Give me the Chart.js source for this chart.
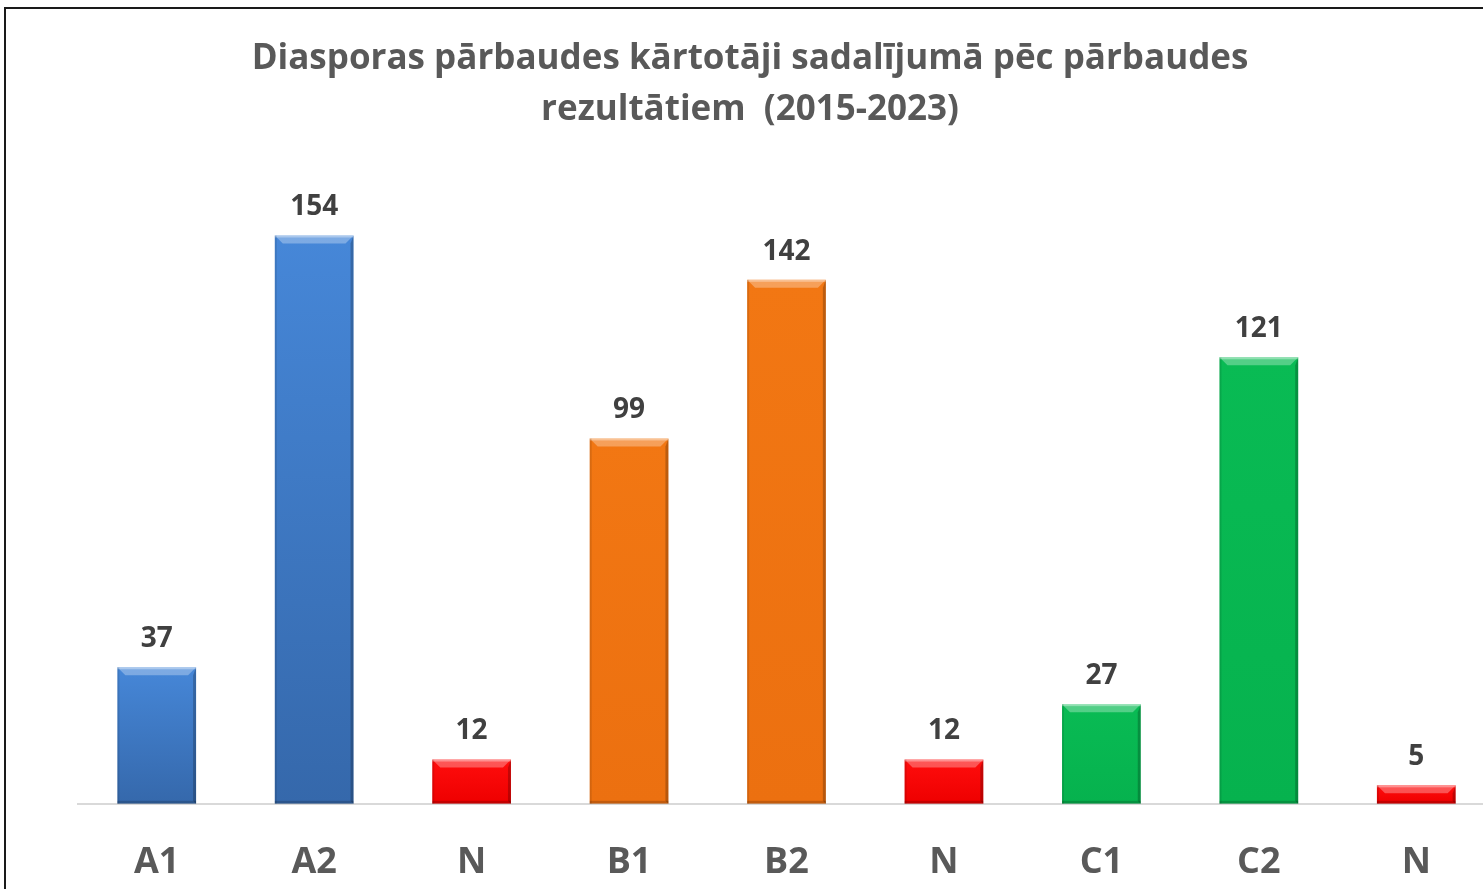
<!DOCTYPE html>
<html>
<head>
<meta charset="utf-8">
<script src="https://cdn.jsdelivr.net/npm/chart.js@4.4.0/dist/chart.umd.min.js"></script>
<style>
    html, body { margin: 0; padding: 0; background: #fff; overflow: hidden; }
    .frame { position: absolute; left: 4px; top: 7px; width: 1600px; height: 1000px; border: 2px solid #1a1a1a; }
    #chart { position: absolute; left: 0; top: 0; }
</style>
</head>
<body>
<div class="frame"></div>
<canvas id="chart" width="1500" height="929"></canvas>
<script>
const labels = ['A1', 'A2', 'N', 'B1', 'B2', 'N', 'C1', 'C2', 'N'];
const values = [37, 154, 12, 99, 142, 12, 27, 121, 5];
// top / bottom colour of each bar gradient
const topColors = ['#4687d8', '#4687d8', '#ff0d0d', '#f27713', '#f27713', '#ff0d0d', '#09bb54', '#09bb54', '#ff0d0d'];
const bottomColors = ['#3568ab', '#3568ab', '#ee0000', '#ec7010', '#ec7010', '#ee0000', '#06b24e', '#06b24e', '#ee0000'];

const titleLines = ['Diasporas pārbaudes kārtotāji sadalījumā pēc pārbaudes', 'rezultātiem  (2015-2023)'];

// title centred on the whole canvas, not on the plot area
const titlePlugin = {
    id: 'canvasTitle',
    afterDraw(chart) {
        const ctx = chart.ctx;
        ctx.save();
        ctx.font = 'bold 35px "Open Sans"';
        ctx.fillStyle = '#595959';
        ctx.textAlign = 'center';
        ctx.textBaseline = 'middle';
        titleLines.forEach((line, i) => {
            ctx.fillText(line, chart.width / 2, 59 + i * 51);
        });
        ctx.restore();
    }
};

// light top bevel, darker sides, like the office 3D bar style
const bevelPlugin = {
    id: 'bevel',
    afterDatasetsDraw(chart) {
        const ctx = chart.ctx;
        chart.getDatasetMeta(0).data.forEach(bar => {
            const left = bar.x - bar.width / 2;
            const right = bar.x + bar.width / 2;
            const top = bar.y;
            const bottom = bar.base;
            const b = Math.min(8, (bottom - top) / 2);
            ctx.save();
            // top highlight
            ctx.fillStyle = 'rgba(255,255,255,0.3)';
            ctx.beginPath();
            ctx.moveTo(left, top);
            ctx.lineTo(right, top);
            ctx.lineTo(right - b, top + b);
            ctx.lineTo(left + b, top + b);
            ctx.closePath();
            ctx.fill();
            ctx.fillStyle = 'rgba(255,255,255,0.35)';
            ctx.fillRect(left, top, right - left, 2);
            // right shade
            ctx.fillStyle = 'rgba(0,0,0,0.22)';
            ctx.beginPath();
            ctx.moveTo(right, top);
            ctx.lineTo(right, bottom);
            ctx.lineTo(right - 3, bottom - 3);
            ctx.lineTo(right - 3, top + b);
            ctx.closePath();
            ctx.fill();
            // bottom shade
            ctx.fillStyle = 'rgba(0,0,0,0.18)';
            ctx.fillRect(left, bottom - 3, right - left, 3);
            // left soft edge
            ctx.fillStyle = 'rgba(0,0,0,0.1)';
            ctx.fillRect(left, top, 2, bottom - top);
            ctx.restore();
        });
    }
};

const valueLabels = {
    id: 'valueLabels',
    afterDatasetsDraw(chart) {
        const ctx = chart.ctx;
        ctx.save();
        ctx.font = 'bold 28px "Open Sans"';
        ctx.fillStyle = '#404040';
        ctx.textAlign = 'center';
        ctx.textBaseline = 'middle';
        chart.getDatasetMeta(0).data.forEach((bar, i) => {
            ctx.fillText(values[i], bar.x, bar.y - 28);
        });
        ctx.restore();
    }
};

new Chart(document.getElementById('chart'), {
    type: 'bar',
    data: {
        labels: labels,
        datasets: [{
            data: values,
            backgroundColor: (context) => {
                const chart = context.chart;
                const i = context.dataIndex;
                if (!chart.chartArea) return topColors[i];
                const yScale = chart.scales.y;
                const g = chart.ctx.createLinearGradient(0, yScale.getPixelForValue(values[i]), 0, yScale.getPixelForValue(0));
                g.addColorStop(0, topColors[i]);
                g.addColorStop(1, bottomColors[i]);
                return g;
            },
            borderWidth: 0,
            barPercentage: 0.5,
            categoryPercentage: 1
        }]
    },
    options: {
        responsive: false,
        animation: false,
        layout: { padding: { left: 78, right: 5, top: 158, bottom: 8 } },
        plugins: {
            legend: { display: false },
            tooltip: { enabled: false },
            title: { display: false }
        },
        scales: {
            x: {
                grid: { display: false, drawTicks: false },
                border: { display: true, color: '#d9d9d9', width: 2 },
                ticks: {
                    color: '#595959',
                    padding: 37,
                    font: { family: '"Open Sans"', size: 36, weight: 'bold', lineHeight: 1.2 }
                }
            },
            y: {
                display: false,
                min: 0,
                max: 175
            }
        }
    },
    plugins: [bevelPlugin, valueLabels, titlePlugin]
});
</script>
</body>
</html>
